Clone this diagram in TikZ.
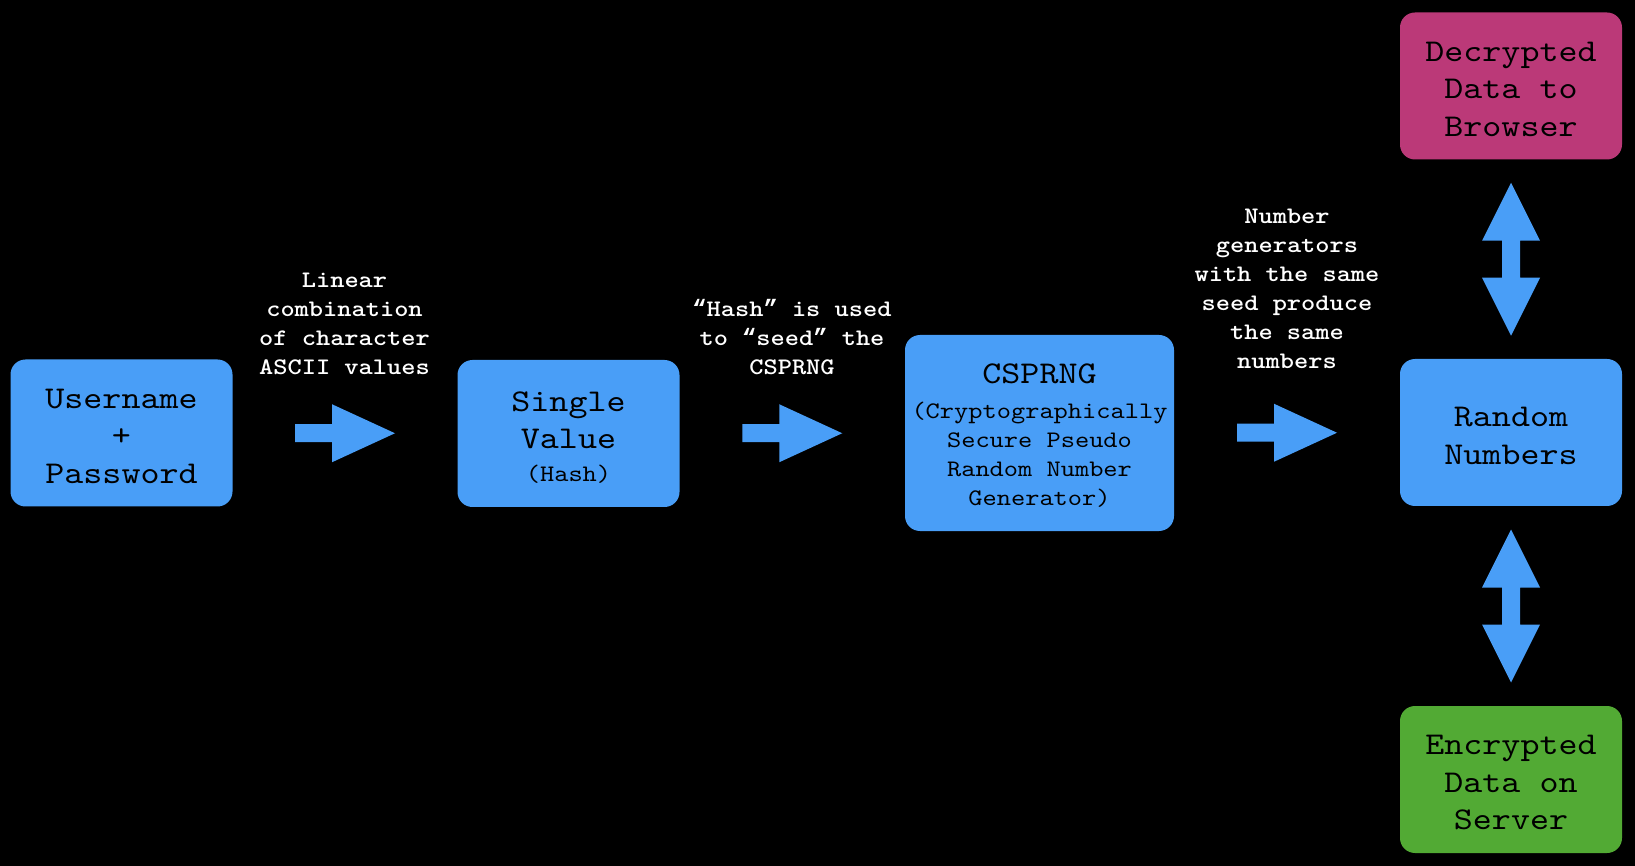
\documentclass[tikz,border=0pt]{standalone}
\usepackage{fontspec}
\newfontfamily\courfont{lmmono10-regular}[Extension=.otf, BoldFont=lmmonolt10-bold, FakeStretch=1.143]
\newfontfamily\quotefont{Liberation Mono}
\usetikzlibrary{calc}
\definecolor{boxblue}{RGB}{73,158,247}
\definecolor{boxpink}{RGB}{187,57,120}
\definecolor{boxgreen}{RGB}{82,170,52}
\newcommand\bigsz{\fontsize{15.85}{18.75}\selectfont}
\newcommand\smallsz{\fontsize{11.85}{14.5}\selectfont}
\newcommand\topfix{\rule{0pt}{12.9pt}}
\newcommand\myopenq{{\quotefont\bfseries “}}
\newcommand\mycloseq{{\quotefont\bfseries ”}}
\tikzset{
  box/.style={rounded corners=7.5pt, inner sep=0pt, align=center, text=black,
    minimum width=111pt, minimum height=73.5pt,
    font=\courfont\bigsz},
  lbl/.style={text=white, align=center, inner sep=0pt,
    font=\courfont\bfseries\smallsz},
  rarrow/.pic={\fill[boxblue] (-50,-9) -- (-13,-9) -- (-13,-29) -- (50,0) -- (-13,29) -- (-13,9) -- (-50,9) -- cycle;},
  varrow/.pic={\fill[boxblue] (0,-76.5) -- (29,-18.5) -- (9,-18.5) -- (9,18.5) -- (29,18.5) -- (0,76.5) -- (-29,18.5) -- (-9,18.5) -- (-9,-18.5) -- (-29,-18.5) -- cycle;}
}
\begin{document}
\begin{tikzpicture}[x=0.5pt,y=-0.5pt]
\fill[black] (0,0) rectangle (1635,866);
\useasboundingbox (0,0) rectangle (1635,866);

\node[box, fill=boxblue] (user) at (121.5,433) {\topfix Username\\+\\Password};
\node[box, fill=boxblue] (single) at (568.5,433.5) {\rule{0pt}{14pt}Single\\Value\\[-2.25pt]{\smallsz (Hash)}};
\node[box, fill=boxblue, minimum width=134.5pt, minimum height=98pt, font=\courfont\smallsz] (csprng) at (1039.5,433)
  {{\bigsz\topfix CSPRNG}\\[3pt](Cryptographically\\Secure Pseudo\\Random Number\\Generator)};
\node[box, fill=boxpink] (decr) at (1511,86) {\topfix Decrypted\\Data to\\Browser};
\node[box, fill=boxblue] (rand) at (1511,432.5) {\topfix Random\\Numbers};
\node[box, fill=boxgreen] (encr) at (1511,779.5) {\topfix Encrypted\\Data on\\Server};

\pic at ($(user.east)!0.5!(single.west)$) {rarrow};
\pic at ($(single.east)!0.5!(csprng.west)$) {rarrow};
\pic at ($(csprng.east)!0.5!(rand.west)$) {rarrow};
\pic at ($(decr.south)!0.5!(rand.north)$) {varrow};
\pic at ($(rand.south)!0.5!(encr.north)$) {varrow};

\node[lbl] (l1) at (344.5,323.5) {Linear\\combination\\of character\\ASCII values};
\node[lbl] (l2) at (792,337) {\myopenq Hash\mycloseq{} is used\\to \myopenq seed\mycloseq{} the\\CSPRNG};
\node[lbl] (l3) at (1287,289) {Number\\generators\\with the same\\seed produce\\the same\\numbers};
\end{tikzpicture}
\end{document}
